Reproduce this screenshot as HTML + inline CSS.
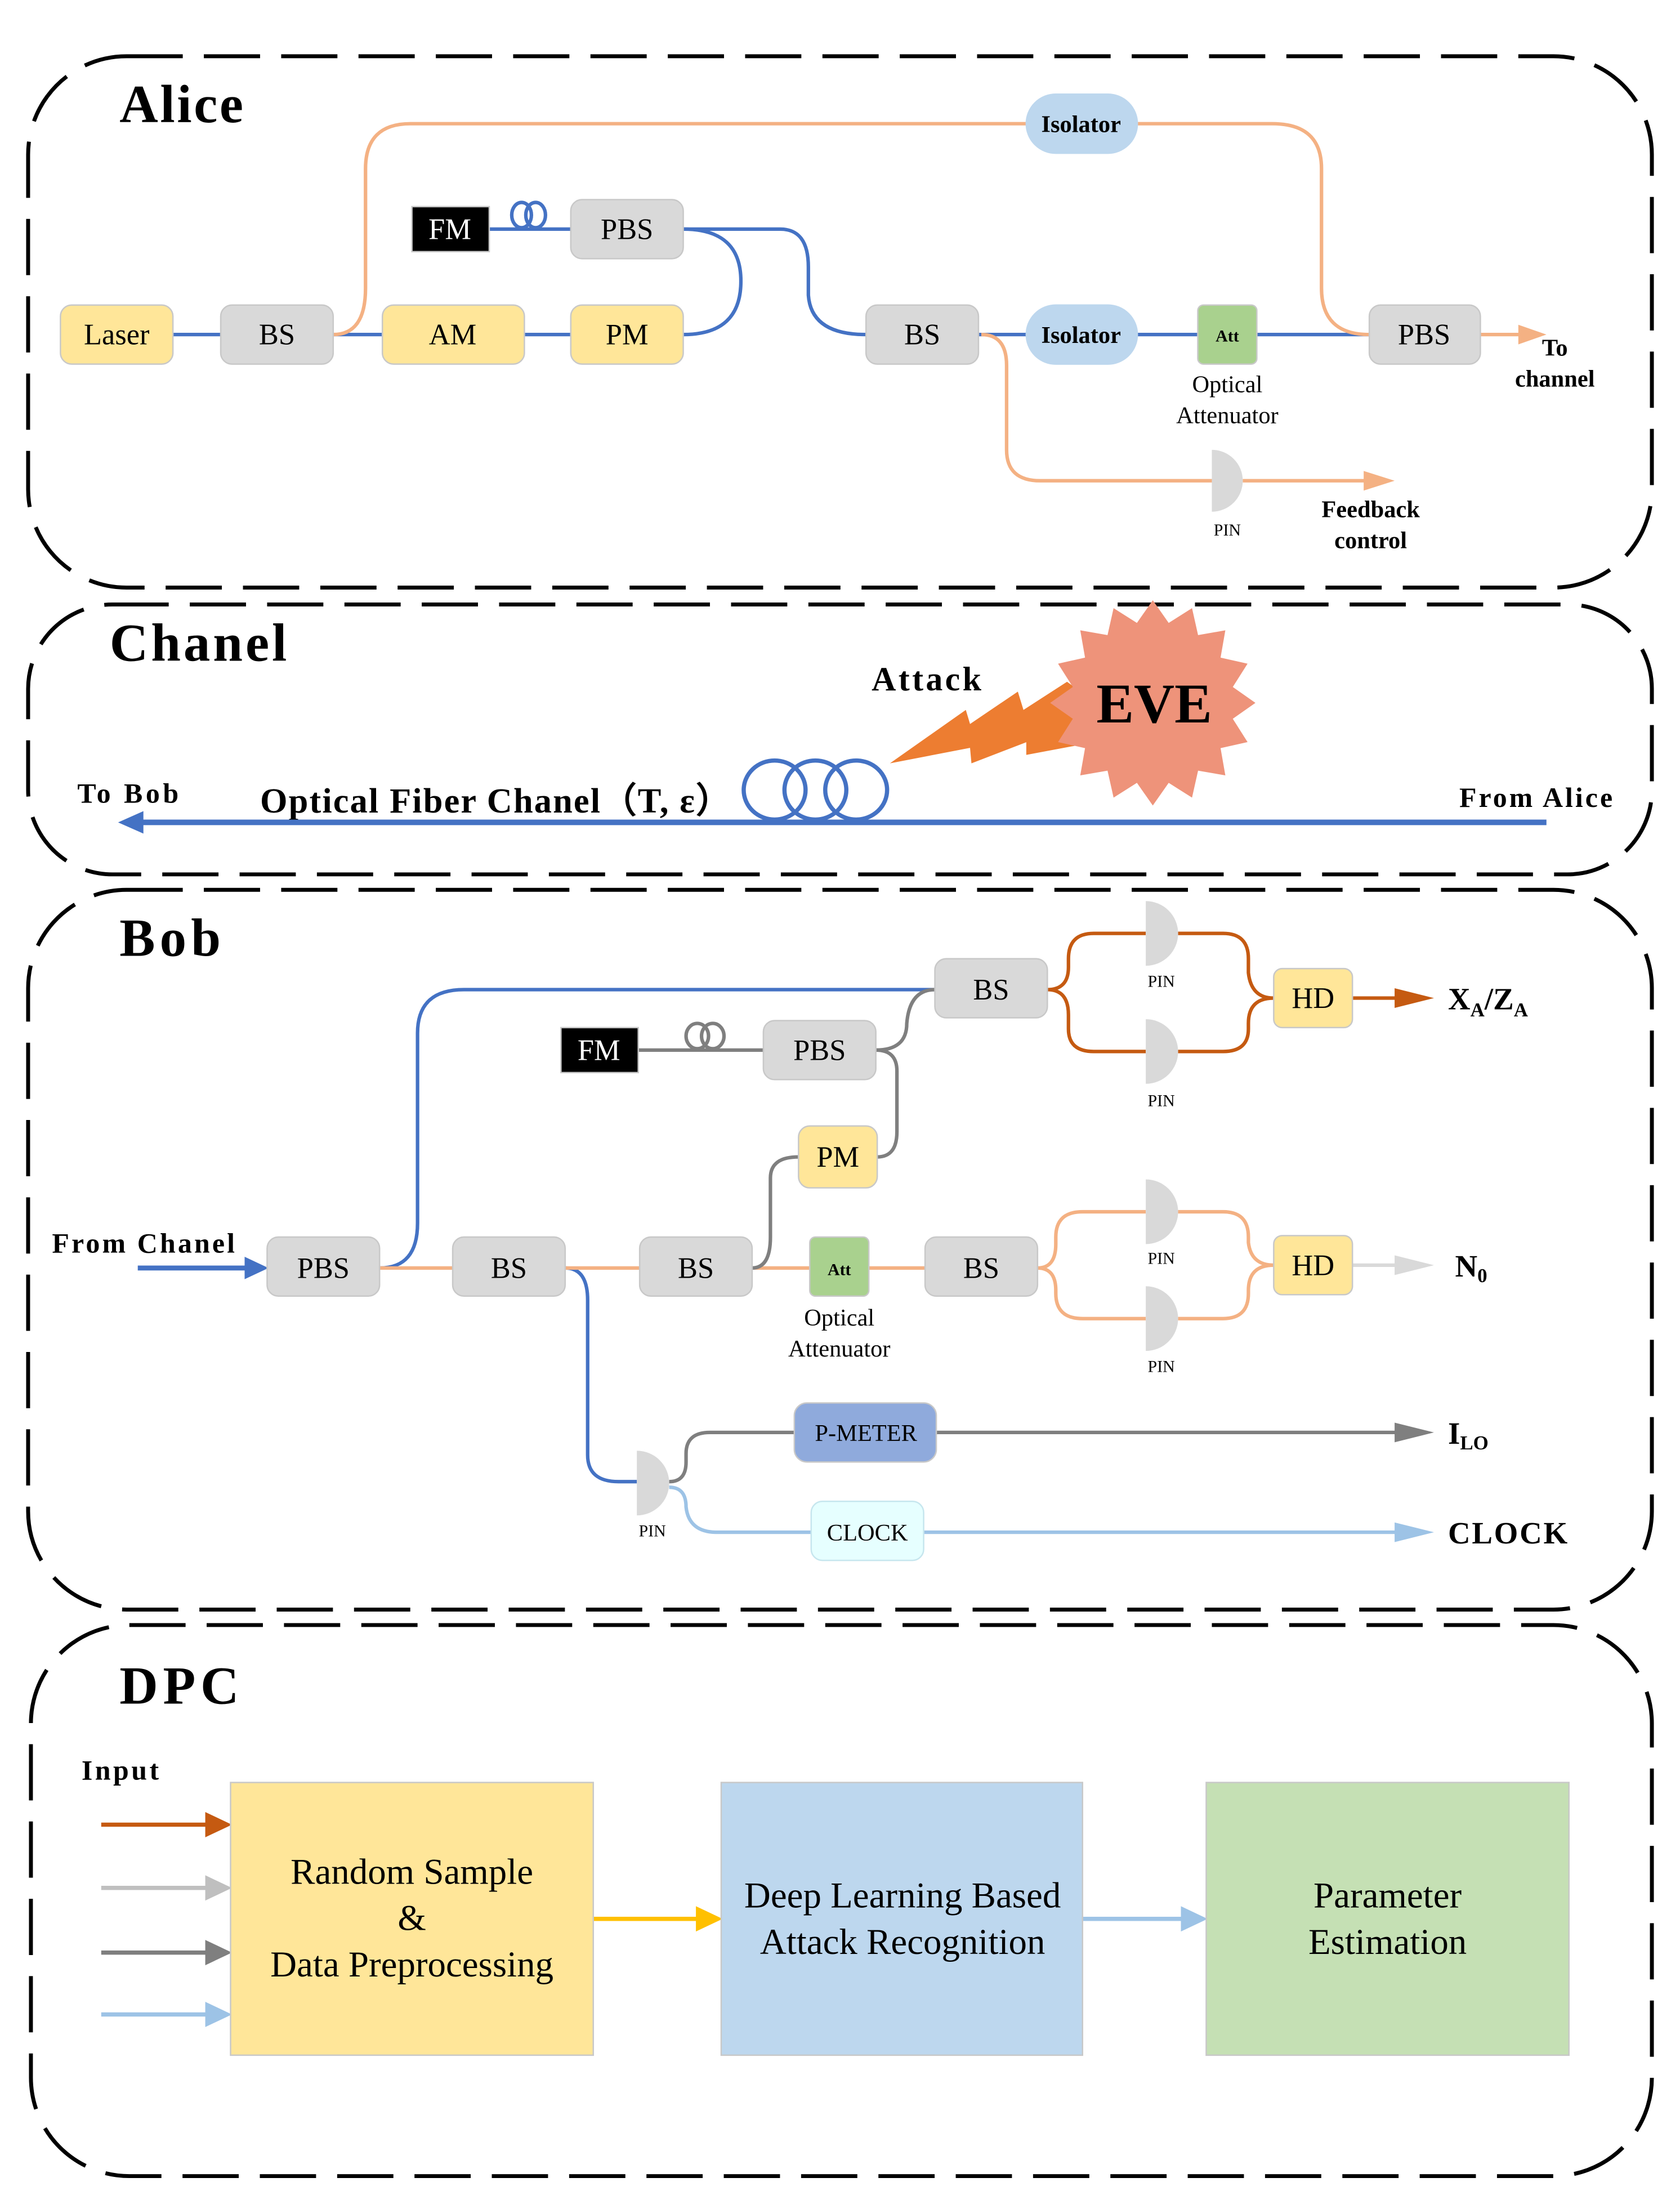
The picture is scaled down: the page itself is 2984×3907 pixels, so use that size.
<!DOCTYPE html>
<html><head><meta charset="utf-8"><style>
html,body{margin:0;padding:0;background:#fff;}
svg{display:block;}
text{font-family:"Liberation Serif","DejaVu Serif",serif;}
</style></head><body>
<svg width="2984" height="3907" viewBox="0 0 1195 1565" preserveAspectRatio="none" xmlns="http://www.w3.org/2000/svg">
<g fill="none" stroke="#000" stroke-width="2.8" stroke-dasharray="40 15">
<rect x="20" y="40" width="1155" height="378" rx="70"/>
<rect x="20" y="430" width="1155" height="192" rx="60"/>
<rect x="20" y="633" width="1155" height="512" rx="70"/>
<rect x="22" y="1156" width="1153" height="392" rx="70"/>
</g>

<!-- ALICE -->
<text x="85" y="87" font-size="38" font-weight="bold" textLength="88">Alice</text>
<g fill="none" stroke-width="2.5">
<path d="M123,238 H157 M237,238 H272 M373,238 H406" stroke="#4472c4"/>
<path d="M486,238 Q527,238 527,200 Q527,163 486,163" stroke="#4472c4"/>
<path d="M486,163 L555,163 Q575,163 575,190 L575,210 Q577,238 616,238" stroke="#4472c4"/>
<path d="M348,163 H406" stroke="#4472c4"/>
<ellipse cx="371" cy="153" rx="7" ry="9" stroke="#4472c4"/>
<ellipse cx="381" cy="153" rx="7" ry="9" stroke="#4472c4"/>
<path d="M696,238 H730 M809,238 H852 M894,238 H974" stroke="#4472c4"/>
<path d="M237,238 Q260,238 260,205 L260,120 Q260,88 292,88 L730,88 M809,88 L905,88 Q940,88 940,120 L940,205 Q940,238 974,238" stroke="#f4b183"/>
<path d="M698,238 Q716,238 716,260 L716,320 Q716,342 740,342 L862,342 M884,342 L975,342" stroke="#f4b183"/>
<path d="M1053,238 H1082" stroke="#f4b183"/>
</g>
<polygon points="970,335 992,342 970,349" fill="#f4b183"/>
<polygon points="1080,231 1100,238 1080,245" fill="#f4b183"/>
<g stroke="#c8c8c8" stroke-width="1">
<rect x="43" y="217" width="80" height="42" rx="8" fill="#ffe699"/>
<rect x="157" y="217" width="80" height="42" rx="8" fill="#d9d9d9"/>
<rect x="272" y="217" width="101" height="42" rx="8" fill="#ffe699"/>
<rect x="406" y="217" width="80" height="42" rx="8" fill="#ffe699"/>
<rect x="406" y="142" width="80" height="42" rx="8" fill="#d9d9d9"/>
<rect x="293" y="147" width="55" height="32" fill="#000"/>
<rect x="616" y="217" width="80" height="42" rx="8" fill="#d9d9d9"/>
<rect x="730" y="217" width="79" height="42" rx="21" fill="#bdd7ee" stroke="#bdd7ee"/>
<rect x="730" y="67" width="79" height="42" rx="21" fill="#bdd7ee" stroke="#bdd7ee"/>
<rect x="852" y="217" width="42" height="42" rx="4" fill="#a9d18e"/>
<rect x="974" y="217" width="79" height="42" rx="8" fill="#d9d9d9"/>
</g>
<path d="M862,320 A22,22 0 0 1 862,364 Z" fill="#d9d9d9"/>
<g font-size="21" text-anchor="middle">
<text x="83" y="245">Laser</text>
<text x="197" y="245">BS</text>
<text x="322" y="245">AM</text>
<text x="446" y="245">PM</text>
<text x="446" y="170">PBS</text>
<text x="320" y="170" fill="#fff">FM</text>
<text x="656" y="245">BS</text>
<text x="1013" y="245">PBS</text>
<text x="769" y="244" font-size="17" font-weight="bold">Isolator</text>
<text x="769" y="94" font-size="17" font-weight="bold">Isolator</text>
<text x="873" y="243" font-size="12" font-weight="bold">Att</text>
<text x="873" y="279" font-size="17">Optical</text>
<text x="873" y="301" font-size="17">Attenuator</text>
<text x="873" y="381" font-size="12">PIN</text>
<text x="975" y="368" font-size="17" font-weight="bold">Feedback</text>
<text x="975" y="390" font-size="17" font-weight="bold">control</text>
<text x="1106" y="253" font-size="17" font-weight="bold">To</text>
<text x="1106" y="275" font-size="17" font-weight="bold">channel</text>
</g>

<!-- CHANEL -->
<text x="78" y="470" font-size="38" font-weight="bold" textLength="126">Chanel</text>
<text x="620" y="491" font-size="24" font-weight="bold" textLength="78">Attack</text>
<text x="55" y="571" font-size="20" font-weight="bold" textLength="72">To Bob</text>
<text x="185" y="578" font-size="25" font-weight="bold" textLength="335">Optical Fiber Chanel（T, ε）</text>
<text x="1038" y="574" font-size="20" font-weight="bold" textLength="109">From Alice</text>
<path d="M1100,585 H98" stroke="#4472c4" stroke-width="4"/>
<polygon points="102,577 84,585 102,593" fill="#4472c4"/>
<g fill="none" stroke="#4472c4" stroke-width="3">
<ellipse cx="551" cy="562" rx="22" ry="21"/>
<ellipse cx="580" cy="562" rx="22" ry="21"/>
<ellipse cx="609" cy="562" rx="22" ry="21"/>
</g>
<polygon points="633,543 687,505 690,515 724,492 728,505 759,485 780,500 780,528 762,531 730,537 730,528 691,543 690,532" fill="#ed7d31"/>
<polygon fill="#ee937a" points="820,427 831.3,443.1 847.9,432.6 852.2,451.8 871.6,448.4 868.2,467.8 887.4,472.1 876.9,488.7 893,500 876.9,511.3 887.4,527.9 868.2,532.2 871.6,551.6 852.2,548.2 847.9,567.4 831.3,556.9 820,573 808.7,556.9 792.1,567.4 787.8,548.2 768.4,551.6 771.8,532.2 752.6,527.9 763.1,511.3 747,500 763.1,488.7 752.6,472.1 771.8,467.8 768.4,448.4 787.8,451.8 792.1,432.6 808.7,443.1"/>
<text x="821" y="514" font-size="40" font-weight="bold" text-anchor="middle">EVE</text>

<!-- BOB -->
<text x="85" y="680" font-size="38" font-weight="bold" textLength="72">Bob</text>
<text x="37" y="891" font-size="20" font-weight="bold" textLength="130">From Chanel</text>
<path d="M98,902 H176" stroke="#4472c4" stroke-width="3.5"/>
<polygon points="174,894 191,902 174,910" fill="#4472c4"/>
<g fill="none" stroke-width="2.5">
<path d="M270,902 Q297,902 297,870 L297,735 Q297,704 330,704 L665,704" stroke="#4472c4"/>
<path d="M402,902 Q418,902 418,925 L418,1035 Q418,1054 440,1054 L453,1054" stroke="#4472c4"/>
<path d="M270,902 H322 M402,902 H455 M535,902 H576 M618,902 H658" stroke="#f4b183"/>
<path d="M535,902 Q548,902 548,880 L548,838 Q548,823 568,823" stroke="#7f7f7f"/>
<path d="M624,823 Q638,823 638,805 L638,762 Q638,747 623,747" stroke="#7f7f7f"/>
<path d="M623,747 Q645,747 645,728 Q647,704 665,704" stroke="#7f7f7f"/>
<path d="M454,747 H543" stroke="#7f7f7f"/>
<ellipse cx="496" cy="737" rx="8" ry="9" stroke="#7f7f7f"/>
<ellipse cx="507" cy="737" rx="8" ry="9" stroke="#7f7f7f"/>
<path d="M745,704 Q760,704 760,688 L760,682 Q760,664 778,664 L815,664 M838,664 L870,664 Q888,664 888,682 L888,692 Q890,710 906,710 Q888,710 888,728 L888,732 Q888,748 870,748 L838,748 M815,748 L778,748 Q760,748 760,732 L760,722 Q760,704 745,704" stroke="#c55a11"/>
<path d="M962,710 H1000" stroke="#c55a11"/>
<path d="M738,902 Q751,902 751,885 L751,880 Q751,862 770,862 L815,862 M838,862 L870,862 Q888,862 888,880 L888,884 Q890,900 906,900 Q888,900 888,918 L888,920 Q888,938 870,938 L838,938 M815,938 L770,938 Q751,938 751,920 L751,918 Q751,902 738,902" stroke="#f4b183"/>
<path d="M962,900 H1000" stroke="#d9d9d9"/>
<path d="M476,1054 Q488,1054 488,1040 L488,1034 Q488,1019 505,1019 L565,1019 M666,1019 L1000,1019" stroke="#7f7f7f"/>
<path d="M476,1058 Q488,1058 488,1072 Q490,1090 510,1090 L577,1090 M657,1090 L1000,1090" stroke="#9dc3e6"/>
</g>
<polygon points="992,703 1020,710 992,717" fill="#c55a11"/>
<polygon points="992,893 1020,900 992,907" fill="#d9d9d9"/>
<polygon points="992,1012 1020,1019 992,1026" fill="#7f7f7f"/>
<polygon points="992,1083 1020,1090 992,1097" fill="#9dc3e6"/>
<g stroke="#c8c8c8" stroke-width="1">
<rect x="190" y="880" width="80" height="42" rx="8" fill="#d9d9d9"/>
<rect x="322" y="880" width="80" height="42" rx="8" fill="#d9d9d9"/>
<rect x="455" y="880" width="80" height="42" rx="8" fill="#d9d9d9"/>
<rect x="576" y="880" width="42" height="42" rx="4" fill="#a9d18e"/>
<rect x="658" y="880" width="80" height="42" rx="8" fill="#d9d9d9"/>
<rect x="665" y="682" width="80" height="42" rx="8" fill="#d9d9d9"/>
<rect x="543" y="726" width="80" height="42" rx="8" fill="#d9d9d9"/>
<rect x="399" y="731" width="55" height="32" fill="#000"/>
<rect x="568" y="801" width="56" height="44" rx="8" fill="#ffe699"/>
<rect x="906" y="689" width="56" height="42" rx="6" fill="#ffe699"/>
<rect x="906" y="879" width="56" height="42" rx="6" fill="#ffe699"/>
<rect x="565" y="998" width="101" height="42" rx="9" fill="#8faadc"/>
<rect x="577" y="1068" width="80" height="42" rx="8" fill="#e6ffff" stroke="#c6e6ee"/>
</g>
<g fill="#d9d9d9">
<path d="M815,641 A23,23 0 0 1 815,687 Z"/>
<path d="M815,725 A23,23 0 0 1 815,771 Z"/>
<path d="M815,839 A23,23 0 0 1 815,885 Z"/>
<path d="M815,915 A23,23 0 0 1 815,961 Z"/>
<path d="M453,1032 A23,23 0 0 1 453,1078 Z"/>
</g>
<g font-size="21" text-anchor="middle">
<text x="230" y="909">PBS</text>
<text x="362" y="909">BS</text>
<text x="495" y="909">BS</text>
<text x="698" y="909">BS</text>
<text x="705" y="711">BS</text>
<text x="583" y="754">PBS</text>
<text x="426" y="754" fill="#fff">FM</text>
<text x="596" y="830">PM</text>
<text x="934" y="717">HD</text>
<text x="934" y="907">HD</text>
<text x="616" y="1025" font-size="17">P-METER</text>
<text x="617" y="1096" font-size="17">CLOCK</text>
<text x="597" y="907" font-size="12" font-weight="bold">Att</text>
<text x="597" y="943" font-size="17">Optical</text>
<text x="597" y="965" font-size="17">Attenuator</text>
<g font-size="12"><text x="826" y="702">PIN</text><text x="826" y="787">PIN</text><text x="826" y="899">PIN</text><text x="826" y="976">PIN</text><text x="464" y="1093">PIN</text></g>
</g>
<g font-size="22" font-weight="bold">
<text x="1030" y="718">X<tspan font-size="14" dy="5">A</tspan><tspan dy="-5">/Z</tspan><tspan font-size="14" dy="5">A</tspan></text>
<text x="1035" y="908">N<tspan font-size="14" dy="4">0</tspan></text>
<text x="1030" y="1027">I<tspan font-size="14" dy="4">LO</tspan></text>
<text x="1030" y="1098" textLength="85">CLOCK</text>
</g>

<!-- DPC -->
<text x="85" y="1212" font-size="38" font-weight="bold" textLength="85">DPC</text>
<text x="58" y="1266" font-size="20" font-weight="bold" textLength="55">Input</text>
<g stroke-width="3">
<path d="M72,1298 H150" stroke="#c55a11"/>
<path d="M72,1343 H150" stroke="#bfbfbf"/>
<path d="M72,1389 H150" stroke="#7f7f7f"/>
<path d="M72,1433 H150" stroke="#9dc3e6"/>
<path d="M422,1365 H498" stroke="#ffc000"/>
<path d="M770,1365 H843" stroke="#9dc3e6"/>
</g>
<polygon points="146,1289 165,1298 146,1307" fill="#c55a11"/>
<polygon points="146,1334 165,1343 146,1352" fill="#bfbfbf"/>
<polygon points="146,1380 165,1389 146,1398" fill="#7f7f7f"/>
<polygon points="146,1424 165,1433 146,1442" fill="#9dc3e6"/>
<polygon points="495,1356 514,1365 495,1374" fill="#ffc000"/>
<polygon points="840,1356 859,1365 840,1374" fill="#9dc3e6"/>
<g stroke="#c8c8c8" stroke-width="1">
<rect x="164" y="1268" width="258" height="194" fill="#ffe699"/>
<rect x="513" y="1268" width="257" height="194" fill="#bdd7ee"/>
<rect x="858" y="1268" width="258" height="194" fill="#c5e0b4"/>
</g>
<g font-size="26" text-anchor="middle">
<text x="293" y="1340">Random Sample</text>
<text x="293" y="1373">&amp;</text>
<text x="293" y="1406">Data Preprocessing</text>
<text x="642" y="1357">Deep Learning Based</text>
<text x="642" y="1390">Attack Recognition</text>
<text x="987" y="1357">Parameter</text>
<text x="987" y="1390">Estimation</text>
</g>
</svg>
</body></html>
